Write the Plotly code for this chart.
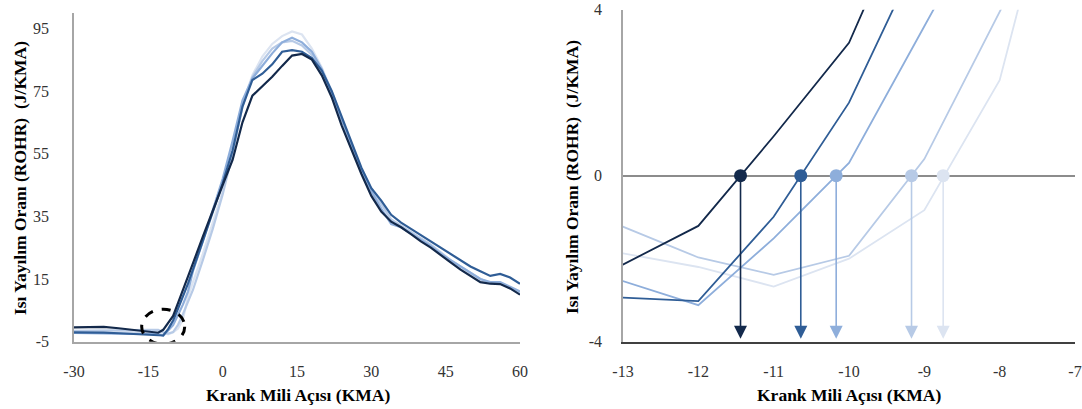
import plotly.graph_objects as go

# ---------------- data ----------------
crank_angle = [-30, -27, -24, -21, -18, -15, -13, -12, -11, -10, -9, -8, -7, -6, -4, -2,
               0, 2, 4, 6, 8, 10, 12, 14, 16, 18, 20, 22, 24, 26, 28, 30, 32, 34, 36, 38,
               40, 42, 44, 46, 48, 50, 52, 54, 56, 58, 60]

rohr_s1 = [-0.4, -0.3, -0.3, -0.7, -1.2, -1.8, -2.14, -1.21, 0.95, 3.2, 7.4, 11.5, 15.5, 20, 28.5, 37,
           45, 53, 65, 73.5, 76.5, 79.5, 83, 86.3, 86.8, 85, 80, 73, 64, 56, 48.5, 41.5, 36.5, 33.3, 31.5, 29.3,
           27, 25, 22.5, 20.3, 18, 16, 14, 13.5, 13.4, 12, 10]
rohr_s2 = [-2.0, -2.0, -2.1, -2.3, -2.5, -2.7, -2.94, -3.02, -0.99, 1.76, 5.6, 9.5, 13.5, 18, 27, 36,
           45.5, 56, 70, 78.5, 80.5, 83.5, 87.5, 88, 87.5, 85.5, 81.5, 75, 67, 58.5, 50.5, 44, 40, 35.5, 33, 31,
           29, 27, 25, 23, 21, 19, 17.5, 16, 16.6, 15.5, 13.5]
rohr_s3 = [-2.2, -2.2, -2.3, -2.4, -2.5, -2.5, -2.54, -3.12, -1.51, 0.31, 3.6, 6.9, 11, 17.5, 27, 37,
           47, 59, 72, 79, 83, 87, 90.5, 92, 90.5, 87.5, 82, 74.5, 66, 57.5, 49.5, 43, 37.5, 32.5, 31.5, 29.5,
           27.5, 25.5, 23, 21, 19, 17, 15, 14, 14, 12.5, 11]
rohr_s4 = [-1.5, -1.5, -1.5, -1.4, -1.3, -1.2, -1.23, -1.97, -2.39, -1.93, 0.4, 3.86, 7.5, 11.5, 21, 31,
           42, 55, 70, 79.5, 84.5, 88.5, 90.5, 91, 89.5, 86.5, 81, 74, 66, 57, 49.5, 43.5, 39, 34, 32, 30,
           28, 26, 23.5, 21, 19, 17, 15, 13.8, 13.6, 12.3, 10.5]
rohr_s5 = [-2.0, -2.0, -1.9, -1.9, -1.8, -1.8, -1.87, -2.2, -2.67, -2.0, -0.83, 2.3, 9.3, 14, 23, 33,
           43, 57, 71, 80, 86, 90, 92.5, 94, 93, 88.5, 82.5, 75, 66.5, 57.5, 49.5, 43, 37, 33.5, 31.5, 29.5,
           27.5, 25.5, 23, 20.5, 18.5, 16.5, 14.5, 13.5, 13.5, 12, 10.5]

series_values = [rohr_s1, rohr_s2, rohr_s3, rohr_s4, rohr_s5]
ignition_angle = [-11.44, -10.64, -10.17, -9.17, -8.75]

left_x_ticks = [-30, -15, 0, 15, 30, 45, 60]
left_y_ticks = [-5, 15, 35, 55, 75, 95]
right_x_ticks = [-13, -12, -11, -10, -9, -8, -7]
right_y_ticks = [-4, 0, 4]

# ---------------- styles ----------------
colors = ["#13294b", "#2f5d96", "#8eaedb", "#b7cae6", "#dce4f1"]
W, H = 1082, 409
SERIF = "Liberation Serif, Times New Roman, serif"


def px_x(p):
    return p / W


def px_y(p):
    return 1 - p / H


def labels(vals):
    return [str(v) for v in vals]


fig = go.Figure()

# left panel: lightest first, darkest on top
for i in reversed(range(5)):
    fig.add_trace(go.Scatter(x=crank_angle, y=series_values[i], mode="lines",
                             line=dict(color=colors[i], width=2.2),
                             xaxis="x", yaxis="y", showlegend=False, hoverinfo="skip"))

# right panel lines
for i in reversed(range(5)):
    fig.add_trace(go.Scatter(x=crank_angle, y=series_values[i], mode="lines",
                             line=dict(color=colors[i], width=1.8),
                             xaxis="x2", yaxis="y2", showlegend=False, hoverinfo="skip"))

ARROW_TIP = -3.93
for i in range(5):
    xa = ignition_angle[i]
    fig.add_trace(go.Scatter(x=[xa, xa], y=[0, ARROW_TIP + 0.2], mode="lines",
                             line=dict(color=colors[i], width=1.6),
                             xaxis="x2", yaxis="y2", showlegend=False, hoverinfo="skip"))
    fig.add_trace(go.Scatter(x=[xa], y=[ARROW_TIP], mode="markers",
                             marker=dict(symbol="arrow-down", size=13, color=colors[i],
                                         line=dict(width=0)),
                             xaxis="x2", yaxis="y2", showlegend=False, hoverinfo="skip",
                             cliponaxis=False))
    fig.add_trace(go.Scatter(x=[xa], y=[0], mode="markers",
                             marker=dict(symbol="circle", size=13, color=colors[i],
                                         line=dict(width=0)),
                             xaxis="x2", yaxis="y2", showlegend=False, hoverinfo="skip",
                             cliponaxis=False))

tickfont = dict(family=SERIF, size=16, color="#333333")
axis_grey = "#a6a6a6"

fig.update_layout(
    width=W, height=H,
    margin=dict(l=0, r=0, t=0, b=0),
    paper_bgcolor="white", plot_bgcolor="white",
    xaxis=dict(domain=[px_x(74), px_x(520)], range=[-30, 60],
               tickvals=left_x_ticks, ticktext=labels(left_x_ticks),
               showline=True, linecolor=axis_grey, linewidth=1.5, showgrid=False,
               zeroline=False, ticks="", tickfont=tickfont, ticklabelstandoff=14,
               anchor="y", automargin=False, ticklabeloverflow="allow"),
    yaxis=dict(domain=[px_y(341.7), px_y(12.6)], range=[-5, 100],
               tickvals=left_y_ticks, ticktext=labels(left_y_ticks),
               showline=True, linecolor=axis_grey, linewidth=1.5, showgrid=False,
               zeroline=False, ticks="", tickfont=tickfont, ticklabelstandoff=20,
               anchor="x", automargin=False, ticklabeloverflow="allow"),
    xaxis2=dict(domain=[px_x(623), px_x(1075)], range=[-13, -7],
                tickvals=right_x_ticks, ticktext=labels(right_x_ticks),
                showline=True, linecolor="#404040", linewidth=2, showgrid=False,
                zeroline=False, ticks="", tickfont=tickfont, ticklabelstandoff=14,
                anchor="y2", automargin=False, ticklabeloverflow="allow"),
    yaxis2=dict(domain=[px_y(341.7), px_y(9.7)], range=[-4, 4],
                tickvals=right_y_ticks, ticktext=labels(right_y_ticks),
                showline=True, linecolor=axis_grey, linewidth=1.5, showgrid=False,
                zeroline=True, zerolinecolor="#8c8c8c", zerolinewidth=1.8,
                ticks="", tickfont=tickfont, ticklabelstandoff=16,
                anchor="x2", automargin=False, ticklabeloverflow="allow"),
)

# dashed circle marking start of combustion on left panel
cx, cy = -12.0, -0.2
rx_px, ry_px = 21.5, 17.5
sx = (520 - 74) / 90.0
sy = (341.7 - 12.6) / 105.0
fig.add_shape(type="circle", xref="x", yref="y",
              x0=cx - rx_px / sx, x1=cx + rx_px / sx,
              y0=cy - ry_px / sy, y1=cy + ry_px / sy,
              line=dict(color="black", width=3, dash="dash"), layer="above")

title_font = dict(family=SERIF, size=17.5, color="black")
ytitle = "<b>Isı Yayılım Oranı (ROHR)\u00a0 (J/KMA)</b>"
xtitle = "<b>Krank Mili Açısı (KMA)</b>"
fig.add_annotation(text=xtitle, xref="paper", yref="paper", x=px_x(298), y=px_y(395),
                   showarrow=False, font=title_font, xanchor="center", yanchor="middle")
fig.add_annotation(text=xtitle, xref="paper", yref="paper", x=px_x(849), y=px_y(395),
                   showarrow=False, font=title_font, xanchor="center", yanchor="middle")
fig.add_annotation(text=ytitle, xref="paper", yref="paper", x=px_x(20), y=px_y(178),
                   showarrow=False, font=title_font, textangle=-90,
                   xanchor="center", yanchor="middle")
fig.add_annotation(text=ytitle, xref="paper", yref="paper", x=px_x(572), y=px_y(177),
                   showarrow=False, font=title_font, textangle=-90,
                   xanchor="center", yanchor="middle")

fig.write_html("out.html")
